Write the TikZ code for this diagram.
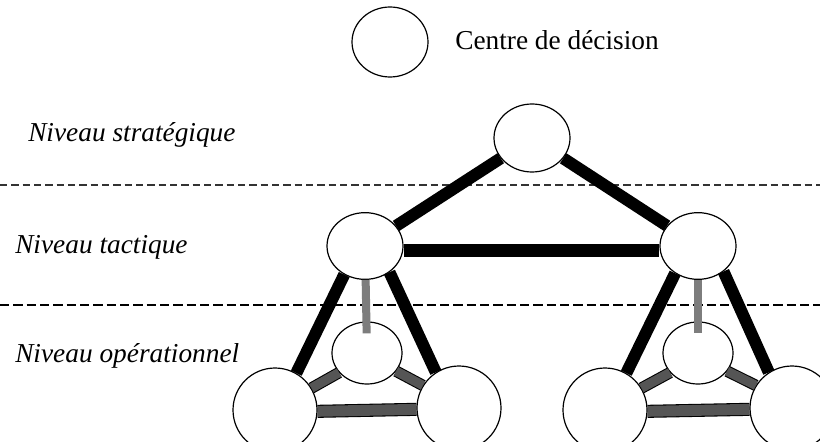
\documentclass[tikz,border=0pt]{standalone}
\usepackage{fontspec}
\setmainfont{Liberation Serif}
\usetikzlibrary{shapes.geometric}
\begin{document}
\begin{tikzpicture}[x=0.75pt,y=-0.75pt,
  cnode/.style={ellipse,draw=black,line width=0.9pt,fill=white,inner sep=0pt},
  snode/.style={cnode,minimum width=57pt,minimum height=51pt},
  tnode/.style={cnode,minimum width=57pt,minimum height=50pt},
  mnode/.style={cnode,minimum width=52.5pt,minimum height=46.5pt},
  bnode/.style={cnode,minimum width=63pt,minimum height=63pt},
  lbl/.style={anchor=base west,inner sep=0pt,font=\fontsize{20.5}{24}\selectfont\itshape},
  blackline/.style={line width=9pt,black},
  greyline/.style={line width=6pt,color={rgb,255:red,125;green,125;blue,125}},
  darkbar/.style={line width=0.8pt,draw=black,double={rgb,255:red,85;green,85;blue,85}},
  sep1/.style={line width=1.1pt,dash pattern=on 5.5pt off 3pt,black!80},
  sep2/.style={line width=2.2pt,dash pattern=on 7pt off 3pt,black}
]
\useasboundingbox[fill=white] (0,0) rectangle (820,442);
% separators
\coordinate (s1a) at (0,185);
\coordinate (s1b) at (820,185);
\coordinate (s2a) at (0,305);
\coordinate (s2b) at (820,305);
\draw[sep1] (s1a) -- (s1b);
\draw[sep2] (s2a) -- (s2b);
% legend
\node[cnode,minimum width=57pt,minimum height=52.5pt] (leg) at (390,42) {};
\node[anchor=base west,inner sep=0pt,font=\fontsize{20.5}{24}\selectfont] (legt) at (455,50) {Centre de décision};
% level labels
\node[lbl] (l1) at (28,142) {Niveau stratégique};
\node[lbl] (l2) at (15,253) {Niveau tactique};
\node[lbl] (l3) at (15,362) {Niveau opérationnel};
% nodes
\node[snode] (s) at (532,138) {};
\node[tnode] (tl) at (365,246) {};
\node[tnode] (tr) at (698,246) {};
\node[mnode] (ml) at (367,353) {};
\node[mnode] (mr) at (698,353) {};
\node[bnode] (bll) at (275,410) {};
\node[bnode] (blr) at (459,408) {};
\node[bnode] (brl) at (605,410) {};
\node[bnode] (brr) at (792,408) {};
% connectors
\draw[blackline] (s) -- (tl);
\draw[blackline] (s) -- (tr);
\draw[blackline,line width=9.75pt] ([yshift=-3pt]tl.east) -- ([yshift=-3pt]tr.west);
\draw[blackline] (tl.234) -- (bll.60);
\draw[blackline] (tl.313) -- (blr.123);
\draw[blackline] (tr.230) -- (brl.60);
\draw[blackline] (tr.315) -- (brr.123);
\draw[greyline,shorten >=-9pt] (tl) -- (ml);
\draw[greyline,shorten >=-9pt] (tr) -- (mr);
\draw[darkbar,double distance=7pt] (ml.215) -- (bll.31);
\draw[darkbar,double distance=7pt] (ml.328) -- (blr.148);
\draw[darkbar,double distance=7pt] (mr.215) -- (brl.31);
\draw[darkbar,double distance=7pt] (mr.328) -- (brr.148);
\draw[darkbar,double distance=8.2pt] ([yshift=-1pt]bll.east) -- ([yshift=-1pt]blr.west);
\draw[darkbar,double distance=8.2pt] ([yshift=-1pt]brl.east) -- ([yshift=-1pt]brr.west);
\end{tikzpicture}
\end{document}
